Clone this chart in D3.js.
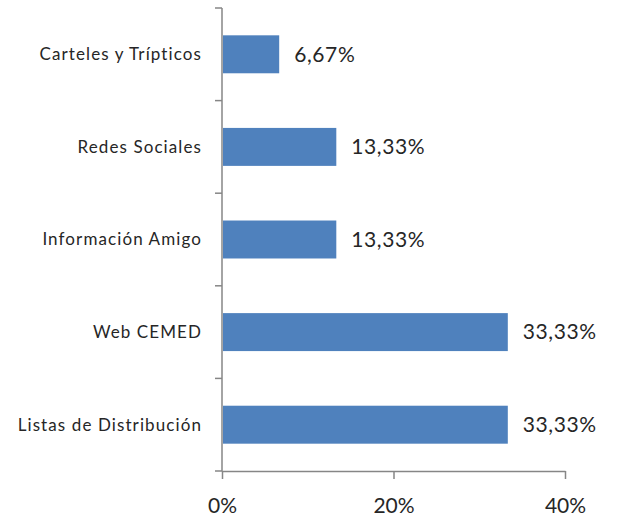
<!DOCTYPE html>
<meta charset="utf-8">
<style>
body { margin: 0; background: #fff; }
.bar { fill: #4f81bd; }
.axis path, .axis line { stroke: #868686; stroke-width: 1.5; }
.axis text { font-family: Lato, "Open Sans", sans-serif; fill: #262626; }
.lbl { font-family: Lato, "Open Sans", sans-serif; fill: #262626; font-size: 21px; letter-spacing: 0.6px; }
</style>
<svg width="619" height="522"></svg>
<script src="https://d3js.org/d3.v7.min.js"></script>
<script>

var categories = ["Carteles y Trípticos", "Redes Sociales", "Información Amigo", "Web CEMED", "Listas de Distribución"];
var values = [6.67, 13.33, 13.33, 33.33, 33.33];
var labels = ["6,67%", "13,33%", "13,33%", "33,33%", "33,33%"];
var xTicks = [0, 20, 40];

var svg = d3.select("svg"),
    margin = {top: 8, right: 53, bottom: 51, left: 222},
    width = 565 - margin.left,
    height = 471 - margin.top;

var x = d3.scaleLinear().domain([0, 40]).range([0, width]),
    y = d3.scaleBand().domain(categories).range([0, height]).paddingInner(0.59).paddingOuter(0.295);

var g = svg.append("g")
    .attr("transform", "translate(" + margin.left + "," + margin.top + ")");

// category boundary ticks on the y axis
var yAxis = g.append("g").attr("class", "axis");
yAxis.append("line").attr("x1", 0).attr("x2", 0).attr("y1", 0).attr("y2", height);
var step = height / categories.length;
d3.range(categories.length + 1).forEach(function(i) {
  yAxis.append("line").attr("x1", -7).attr("x2", 0).attr("y1", i * step).attr("y2", i * step);
});
yAxis.selectAll("text.cat")
  .data(categories)
  .enter().append("text")
    .attr("class", "cat")
    .attr("x", -20)
    .attr("y", function(d) { return y(d) + y.bandwidth() / 2; })
    .attr("dy", "0.35em")
    .attr("text-anchor", "end")
    .style("font-size", "17px")
    .style("letter-spacing", "1.1px")
    .text(function(d) { return d; });

g.append("g")
    .attr("class", "axis")
    .attr("transform", "translate(0," + height + ")")
    .call(d3.axisBottom(x).tickValues(xTicks).tickSize(8).tickSizeOuter(0).tickPadding(19)
      .tickFormat(function(d) { return d + "%"; }))
    .call(function(s) { s.selectAll("text").style("font-size", "21px"); });

g.selectAll(".bar")
  .data(values)
  .enter().append("rect")
    .attr("class", "bar")
    .attr("x", 1)
    .attr("y", function(d, i) { return y(categories[i]); })
    .attr("width", function(d) { return x(d) - 1; })
    .attr("height", y.bandwidth());

g.selectAll(".lbl")
  .data(values)
  .enter().append("text")
    .attr("class", "lbl")
    .attr("x", function(d) { return x(d) + 15; })
    .attr("y", function(d, i) { return y(categories[i]) + y.bandwidth() / 2; })
    .attr("dy", "0.35em")
    .text(function(d, i) { return labels[i]; });

</script>
